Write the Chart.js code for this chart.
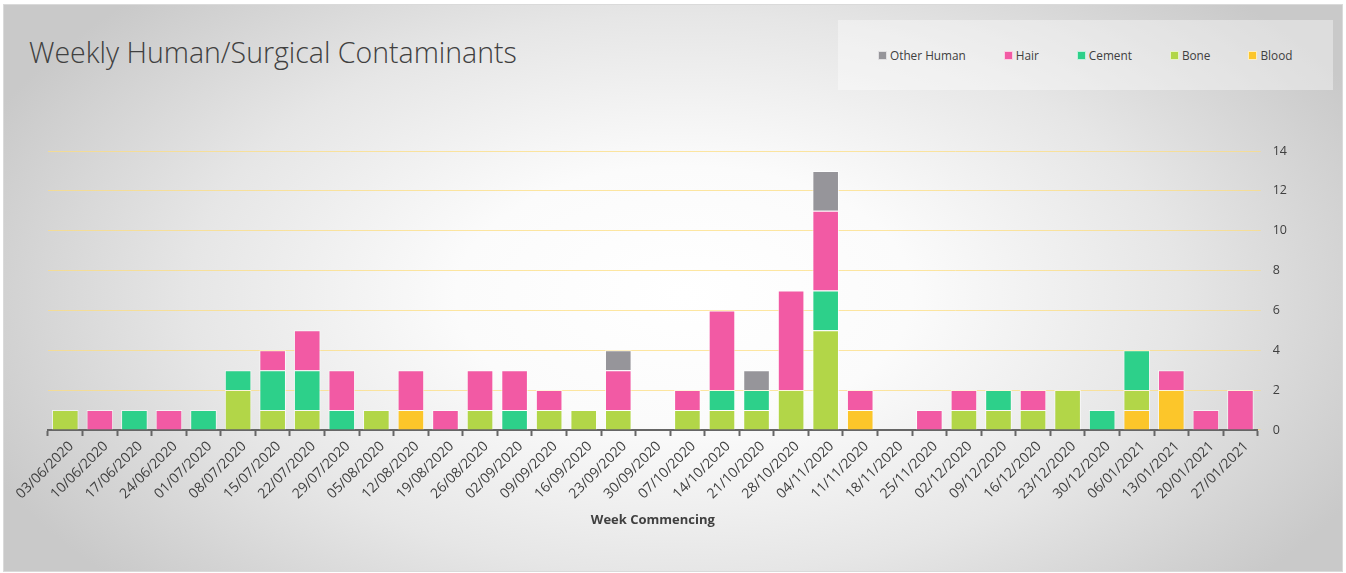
<!DOCTYPE html>
<html>
<head>
<meta charset="utf-8">
<title>Weekly Human/Surgical Contaminants</title>
<script src="https://cdn.jsdelivr.net/npm/chart.js@4"></script>
<style>
  html, body { margin: 0; padding: 0; background: #fff; }
  body { width: 1346px; height: 573px; position: relative; overflow: hidden; font-family: "Open Sans", sans-serif; }
  #frame {
    position: absolute; left: 3px; top: 4px; width: 1338px; height: 566px;
    border: 1px solid #dadada;
    background: radial-gradient(ellipse 760px 430px at 680px 290px, #ffffff 0%, #fbfbfb 30%, #e6e6e6 65%, #c9c9c9 100%);
  }
  #title {
    position: absolute; left: 29px; top: 33px; font-size: 28.5px; font-weight: 300;
    color: #404040; line-height: 38px;
  }
  #legendBox {
    position: absolute; left: 838px; top: 20px; width: 495px; height: 70px;
    background: rgba(255, 255, 255, 0.38);
  }
  #legend { position: absolute; left: 878px; top: 46px; display: flex; gap: 38px; font-size: 11.8px; color: #404040; line-height: 18px; }
  #legend .item { display: flex; align-items: center; }
  #legend .sw { width: 9px; height: 9px; margin-right: 3px; border: 1px solid rgba(255,255,255,0.7); box-sizing: border-box; }
  #wrap { position: absolute; left: 0; top: 0; width: 1346px; height: 573px; }
</style>
</head>
<body>
<div id="frame"></div>
<div id="title">Weekly Human/Surgical Contaminants</div>
<div id="legendBox"></div>
<div id="legend"></div>
<div id="wrap"><canvas id="myChart" width="1346" height="573"></canvas></div>
<script>
const weeks = [
	'03/06/2020', '10/06/2020', '17/06/2020', '24/06/2020', '01/07/2020', '08/07/2020', '15/07/2020',
	'22/07/2020', '29/07/2020', '05/08/2020', '12/08/2020', '19/08/2020', '26/08/2020', '02/09/2020',
	'09/09/2020', '16/09/2020', '23/09/2020', '30/09/2020', '07/10/2020', '14/10/2020', '21/10/2020',
	'28/10/2020', '04/11/2020', '11/11/2020', '18/11/2020', '25/11/2020', '02/12/2020', '09/12/2020',
	'16/12/2020', '23/12/2020', '30/12/2020', '06/01/2021', '13/01/2021', '20/01/2021', '27/01/2021',
]

// counts per week, stacked bottom to top
const blood = [0, 0, 0, 0, 0, 0, 0, 0, 0, 0, 1, 0, 0, 0, 0, 0, 0, 0, 0, 0, 0, 0, 0, 1, 0, 0, 0, 0, 0, 0, 0, 1, 2, 0, 0]
const bone = [1, 0, 0, 0, 0, 2, 1, 1, 0, 1, 0, 0, 1, 0, 1, 1, 1, 0, 1, 1, 1, 2, 5, 0, 0, 0, 1, 1, 1, 2, 0, 1, 0, 0, 0]
const cement = [0, 0, 1, 0, 1, 1, 2, 2, 1, 0, 0, 0, 0, 1, 0, 0, 0, 0, 0, 1, 1, 0, 2, 0, 0, 0, 0, 1, 0, 0, 1, 2, 0, 0, 0]
const hair = [0, 1, 0, 1, 0, 0, 1, 2, 2, 0, 2, 1, 2, 2, 1, 0, 2, 0, 1, 4, 0, 5, 4, 1, 0, 1, 1, 0, 1, 0, 0, 0, 1, 1, 2]
const otherHuman = [0, 0, 0, 0, 0, 0, 0, 0, 0, 0, 0, 0, 0, 0, 0, 0, 1, 0, 0, 0, 1, 0, 2, 0, 0, 0, 0, 0, 0, 0, 0, 0, 0, 0, 0]

const yTicks = [0, 2, 4, 6, 8, 10, 12, 14]

const series = [
	{ label: 'Blood', data: blood, color: '#fcc62a' },
	{ label: 'Bone', data: bone, color: '#b2d648' },
	{ label: 'Cement', data: cement, color: '#2dd08a' },
	{ label: 'Hair', data: hair, color: '#f25aa4' },
	{ label: 'Other Human', data: otherHuman, color: '#96959a' },
]

const textColor = '#404040'

const canvas = document.getElementById('myChart')

const config = {
	type: 'bar',
	data: {
		labels: weeks,
		datasets: series.map((s) => ({
			label: s.label,
			data: s.data,
			backgroundColor: s.color,
			borderColor: 'rgba(255, 255, 255, 0.65)',
			borderWidth: 1,
			barPercentage: 0.77,
			categoryPercentage: 1,
		})),
	},
	options: {
		responsive: false,
		animation: false,
		layout: {
			padding: { left: 48, right: 47, top: 151, bottom: 45 },
		},
		plugins: {
			legend: { display: false },
			tooltip: { enabled: false },
		},
		scales: {
			x: {
				stacked: true,
				grid: {
					drawOnChartArea: false,
					drawTicks: true,
					tickLength: 6,
					tickColor: '#666',
					tickWidth: 2,
				},
				border: { display: true, color: '#666', width: 2 },
				ticks: {
					autoSkip: false,
					minRotation: 45,
					maxRotation: 45,
					padding: 2,
					labelOffset: 6,
					color: textColor,
					font: { family: 'Open Sans', size: 14 },
				},
				title: {
					display: true,
					text: 'Week Commencing',
					color: textColor,
					font: { family: 'Open Sans', size: 13, weight: 'bold' },
					padding: { top: 8, bottom: 0 },
				},
			},
			y: {
				stacked: true,
				position: 'right',
				min: 0,
				max: 14,
				afterBuildTicks: (axis) => {
					axis.ticks = yTicks.map((v) => ({ value: v }))
				},
				grid: {
					color: 'rgba(252, 222, 130, 0.75)',
					lineWidth: 1,
					tickLength: 3,
				},
				border: { display: false },
				ticks: {
					padding: 12,
					color: textColor,
					font: { family: 'Open Sans', size: 12.5 },
				},
			},
		},
	},
}

const myChart = new Chart(canvas, config)

// legend lists the series top of stack first
const legendEl = document.getElementById('legend')
myChart.data.datasets.slice().reverse().forEach((ds) => {
	const item = document.createElement('div')
	item.className = 'item'
	const sw = document.createElement('span')
	sw.className = 'sw'
	sw.style.background = ds.backgroundColor
	const txt = document.createElement('span')
	txt.textContent = ds.label
	item.appendChild(sw)
	item.appendChild(txt)
	legendEl.appendChild(item)
})
</script>
</body>
</html>
